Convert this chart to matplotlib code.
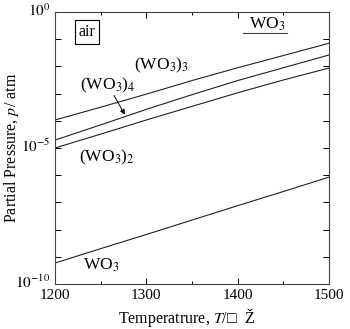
import numpy as np
import matplotlib
matplotlib.use("Agg")
import matplotlib.pyplot as plt
import matplotlib.transforms as mtransforms

plt.rcParams['font.family'] = ['Liberation Serif', 'DejaVu Serif']
plt.rcParams['mathtext.fontset'] = 'stix'

# temperature grid, K
temps = [1200, 1250, 1300, 1350, 1400, 1450, 1500]

# log10 of partial pressure (atm) in air
log_wo3_3 = [-3.97, -3.50, -3.02, -2.52, -2.05, -1.60, -1.15]
log_wo3_4 = [-4.71, -4.15, -3.58, -3.04, -2.52, -2.05, -1.58]
log_wo3_2 = [-5.00, -4.49, -3.97, -3.47, -2.97, -2.50, -2.06]
log_wo3 = [-9.23, -8.70, -8.18, -7.65, -7.12, -6.60, -6.07]

x_ticks = [1200, 1300, 1400, 1500]
x_minor = [1250, 1350, 1450]
y_decades = list(range(-10, 1))
y_labels = {0: r'$10^{0}$', -5: r'$10^{-5}$', -10: r'$10^{-10}$'}

fig = plt.figure(figsize=(3.5, 3.29), dpi=100)
ax = fig.add_axes([55 / 350, 1 - 284 / 329, 274 / 350, 272 / 329])

for series in (log_wo3_3, log_wo3_4, log_wo3_2, log_wo3):
    ax.plot(temps, 10.0 ** np.array(series), color='#222222', lw=0.8)

ax.set_yscale('log')
ax.set_xlim(1200, 1500)
ax.set_ylim(1e-10, 1e0)

ax.set_xticks(x_ticks)
ax.set_xticks(x_minor, minor=True)
ax.set_yticks([10.0 ** d for d in y_decades])
ax.set_yticklabels([y_labels.get(d, '') for d in y_decades])
ax.yaxis.set_minor_locator(matplotlib.ticker.NullLocator())
ax.tick_params(which='both', direction='in', top=True, right=True,
               labelsize=11, width=0.7)
ax.tick_params(which='major', length=4)
ax.tick_params(which='minor', length=2.5)
for sp in ax.spines.values():
    sp.set_linewidth(0.8)
    sp.set_color('#444444')

# lift the decade labels a little so 10^-10 clears the 1200 label
lift = mtransforms.ScaledTranslation(0, 3 / 100, fig.dpi_scale_trans)
for lbl in ax.get_yticklabels():
    lbl.set_transform(lbl.get_transform() + lift)

ax.set_xlabel(r'Temperatrure, $T$/□  Ž', fontsize=11.5)
ax.xaxis.set_label_coords(0.48, -0.08)
ax.set_ylabel(r'Partial Pressure, $p$/ atm', fontsize=11.5)
ax.yaxis.set_label_coords(-0.125, 0.5)

# annotations
fs = 12.5
ax.text(1235, 10 ** -0.74, 'air', fontsize=11.5, ha='center', va='center',
        bbox=dict(boxstyle='square,pad=0.25', fc='white', ec='black', lw=0.8))
ax.text(1432, 10 ** -0.45, r'WO$_3$', fontsize=fs, ha='center', va='center')
ax.plot([1406, 1454], [10 ** -0.77, 10 ** -0.77], color='#444444', lw=0.8)
ax.text(1317, 10 ** -1.95, r'(WO$_3$)$_3$', fontsize=fs, ha='center', va='center')
ax.text(1258, 10 ** -2.7, r'(WO$_3$)$_4$', fontsize=fs, ha='center', va='center')
ax.annotate('', xy=(1278, 10 ** -3.86), xytext=(1263, 10 ** -2.98),
            arrowprops=dict(arrowstyle='-|>', color='black', lw=0.7,
                            mutation_scale=7))
ax.text(1257, 10 ** -5.36, r'(WO$_3$)$_2$', fontsize=fs, ha='center', va='center')
ax.text(1251, 10 ** -9.3, r'WO$_3$', fontsize=fs, ha='center', va='center')

fig.savefig('out.png', dpi=100)
